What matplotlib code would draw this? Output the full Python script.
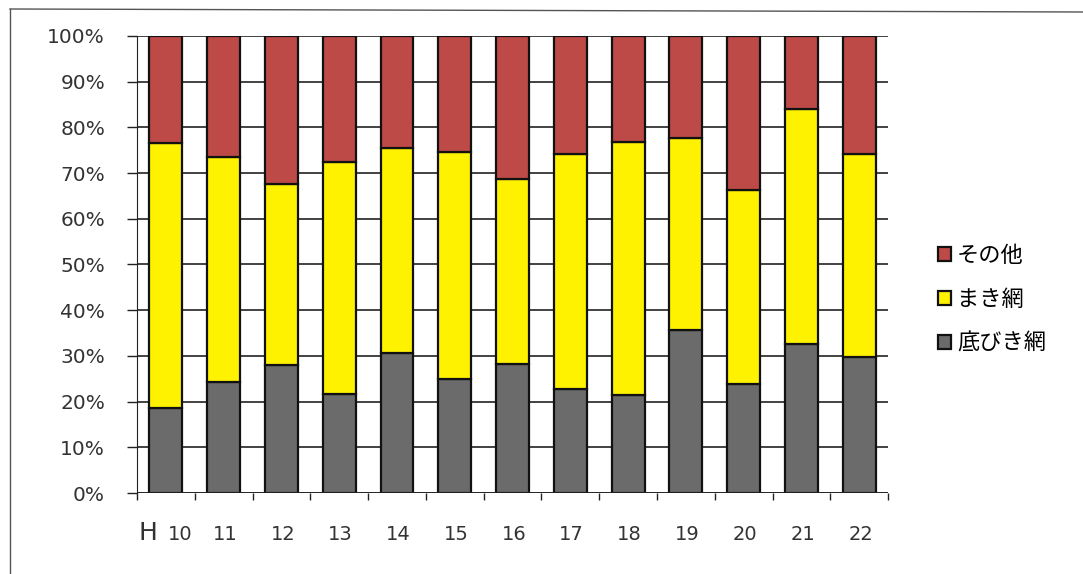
import numpy as np
import matplotlib.pyplot as plt
from matplotlib.lines import Line2D

plt.rcParams['font.family'] = ['DejaVu Sans', 'Noto Sans CJK JP']

# データ（%）
years = ["10", "11", "12", "13", "14", "15", "16", "17", "18", "19", "20", "21", "22"]
sokobiki = [18.6, 24.3, 28.1, 21.6, 30.7, 24.9, 28.3, 22.8, 21.5, 35.6, 23.9, 32.5, 29.7]
makiami_top = [76.5, 73.6, 67.7, 72.5, 75.5, 74.6, 68.8, 74.2, 76.8, 77.7, 66.3, 84.1, 74.1]

makiami = [t - s for t, s in zip(makiami_top, sokobiki)]
sonota = [100 - t for t in makiami_top]

x = np.arange(len(years))
w = 0.57

fig = plt.figure(figsize=(10.83, 5.74), dpi=100)
ax = fig.add_axes([0.1265, 0.1411, 0.8200 - 0.1265, 0.9373 - 0.1411])

# 外枠（左と上のみ）
fig.lines.append(Line2D([10 / 1083, 10 / 1083], [0, 1 - 9 / 574], transform=fig.transFigure,
                        color="#555555", linewidth=1.0))
fig.lines.append(Line2D([10 / 1083, 1], [1 - 9 / 574, 1 - 12 / 574], transform=fig.transFigure,
                        color="#555555", linewidth=1.0))

ax.set_axisbelow(True)
ax.yaxis.grid(True, color="#222222", linewidth=1.2)

edge = dict(edgecolor="#111111", linewidth=1.6)
b1 = ax.bar(x, sokobiki, w, color="#6B6B6B", label="底びき網", **edge)
b2 = ax.bar(x, makiami, w, bottom=sokobiki, color="#FFF200", label="まき網", **edge)
b3 = ax.bar(x, sonota, w, bottom=makiami_top, color="#BE4A48", label="その他", **edge)

ax.set_xlim(-0.5, len(years) - 0.5)
ax.set_ylim(0, 100)
ax.set_yticks(np.arange(0, 101, 10))
ax.set_yticklabels([f"{v}%" for v in range(0, 101, 10)], fontsize=14.5, color="#333333")
ax.tick_params(axis="y", direction="out", length=7, width=1, pad=16, color="#222222")

# x軸：区切りの目盛りとラベル
ax.set_xticks(np.arange(-0.5, len(years)))
ax.set_xticklabels([])
ax.tick_params(axis="x", direction="out", length=5, width=1, color="#222222")

for i, yr in enumerate(years):
    dx = 10 if i == 0 else 1
    ax.annotate(yr, xy=(i, 0), xycoords=("data", "axes fraction"), xytext=(dx, -34),
                textcoords="offset points", ha="center", va="baseline", fontsize=14, color="#333333")
ax.annotate("H", xy=(0, 0), xycoords=("data", "axes fraction"), xytext=(-6, -34),
            textcoords="offset points", ha="right", va="baseline", fontsize=18, color="#333333")

for s in ["top", "right", "bottom"]:
    ax.spines[s].set_visible(False)
ax.spines["left"].set_color("#222222")
ax.axhline(0, color="#222222", linewidth=1.2)

ax.legend(handles=[b3, b2, b1], loc="center left", bbox_to_anchor=(1.04, 0.424),
          frameon=False, handlelength=0.6, handleheight=0.6,
          handletextpad=0.25, labelspacing=0.95, prop={"family": "Noto Sans CJK JP", "size": 16})

fig.savefig("out.png", dpi=100)
